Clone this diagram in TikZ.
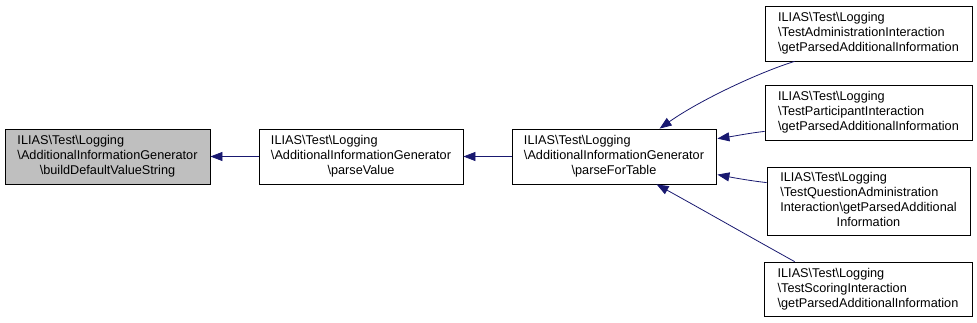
\documentclass[tikz,border=0pt]{standalone}
\usepackage{fontspec}
\setmainfont{Liberation Sans}
\usetikzlibrary{arrows.meta,calc}
\definecolor{edgecol}{HTML}{191970}
\definecolor{hilite}{HTML}{BFBFBF}
\newcommand\bsl{\textbackslash}
\newcommand\boxlines[2]{\begin{tabular}{@{}l@{}}#1\\\multicolumn{1}{@{}c@{}}{#2}\end{tabular}}
\begin{document}
\begin{tikzpicture}[x=1pt,y=-1pt,
  fnbox/.style={draw=black,line width=0.8pt,fill=white,inner sep=0pt,
    font=\fontsize{12.7}{15}\selectfont,minimum width=205pt,minimum height=55pt},
  callarrow/.style={draw=edgecol,line width=0.8pt,-{Triangle[length=12pt,width=9pt]}}]
\useasboundingbox (0,0) rectangle (977,323);
\node[fnbox,fill=hilite] (A) at (107.5,156.5) {\boxlines{ILIAS\bsl Test\bsl Logging\\\bsl AdditionalInformationGenerator}{\bsl buildDefaultValueString}};
\node[fnbox,minimum width=204pt] (B) at (361,156.5) {\boxlines{ILIAS\bsl Test\bsl Logging\\\bsl AdditionalInformationGenerator}{\bsl parseValue}};
\node[fnbox,minimum width=204pt] (C) at (614,156.5) {\boxlines{ILIAS\bsl Test\bsl Logging\\\bsl AdditionalInformationGenerator}{\bsl parseForTable}};
\node[fnbox,minimum width=207pt] (D1) at (868.5,33.5) {\boxlines{ILIAS\bsl Test\bsl Logging\\\bsl TestAdministrationInteraction}{\bsl getParsedAdditionalInformation}};
\node[fnbox,minimum width=207pt] (D2) at (868.5,112.5) {\boxlines{ILIAS\bsl Test\bsl Logging\\\bsl TestParticipantInteraction}{\bsl getParsedAdditionalInformation}};
\node[fnbox,minimum width=203pt,minimum height=68pt] (D3) at (868.5,201) {\boxlines{ILIAS\bsl Test\bsl Logging\\\bsl TestQuestionAdministration\\Interaction\bsl getParsedAdditional}{Information}};
\node[fnbox,minimum width=208pt,minimum height=54pt] (D4) at (868,289) {\boxlines{ILIAS\bsl Test\bsl Logging\\\bsl TestScoringInteraction}{\bsl getParsedAdditionalInformation}};
\draw[callarrow] (B.west) -- (A.east);
\draw[callarrow] (C.west) -- (B.east);
\draw[callarrow] ($(D1.south west)+(30,0)$) .. controls (760,72) and (700,100) .. ($(C.north west)+(148,0)$);
\draw[callarrow] ($(D2.south west)+(0,-9)$) .. controls (750,133) and (735,136) .. ($(C.north east)+(1,10)$);
\draw[callarrow] ($(D3.north west)+(0,16)$) .. controls (752,181) and (735,178) .. ($(C.north east)+(1,46)$);
\draw[callarrow] ($(D4.north west)+(31,0)$) .. controls (752,238) and (703,210) .. ($(C.south west)+(145,0)$);
\end{tikzpicture}
\end{document}
